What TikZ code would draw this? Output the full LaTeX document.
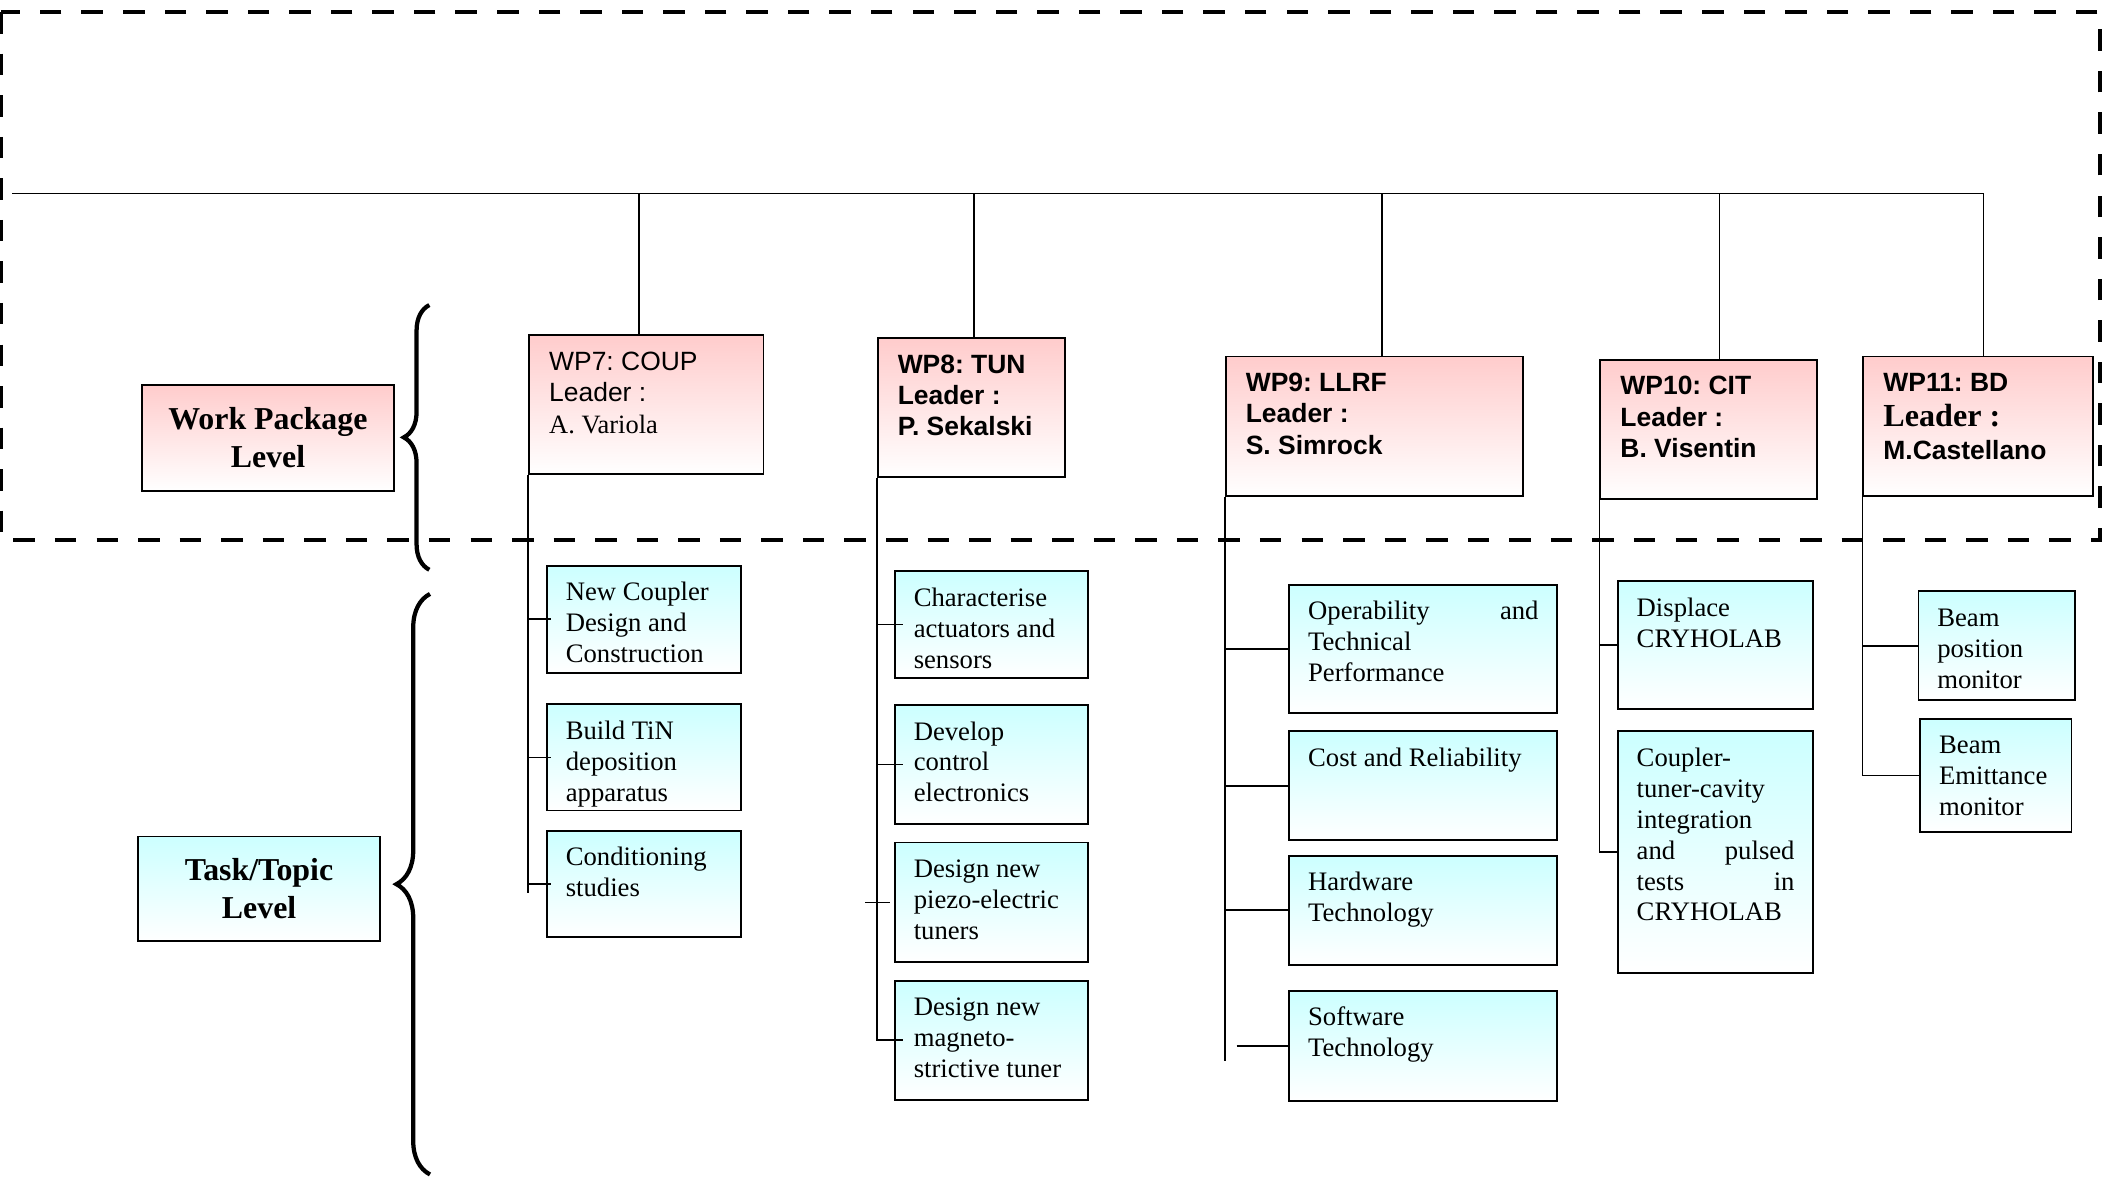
\documentclass[tikz,border=0pt]{standalone}
\usepackage{fontspec}
\setmainfont{Liberation Serif}
\setsansfont{Liberation Sans}
\frenchspacing
\usetikzlibrary{decorations.pathreplacing}
\definecolor{pinktop}{RGB}{255,204,204}
\definecolor{cyantop}{RGB}{204,255,255}
\tikzset{
  wpbox/.style={draw, line width=0.8pt, top color=pinktop, bottom color=white, anchor=north west,
    align=flush left, text width=#1, inner xsep=0.3cm, inner ysep=0.2cm, text height=0.32cm, text depth=1.35cm,
    font=\sffamily\fontsize{11.2}{13.3}\selectfont},
  wpbold/.style={wpbox=#1, font=\sffamily\bfseries\fontsize{11.2}{13.3}\selectfont},
  taskbox/.style 2 args={draw, line width=0.8pt, top color=cyantop, bottom color=white, anchor=north west,
    align=flush left, text width=#1, inner xsep=0.28cm, inner ysep=0.2cm, text height=0.32cm, text depth=#2,
    font=\fontsize{11.3}{13.1}\selectfont},
  levelbox/.style={draw, line width=0.8pt, align=center, font=\bfseries\fontsize{13.5}{16.2}\selectfont},
  conn/.style={line width=0.7pt},
  levelbrace/.style={decorate, decoration={brace, amplitude=#1}, line width=1.8pt},
  wpframe/.style={line width=1.7pt, dash pattern=on 9.1pt off 8.5pt}
}
\begin{document}
\begin{tikzpicture}[x=0.02cm, y=-0.02cm]
  \useasboundingbox (0,0) rectangle (1568,879);
  \draw[wpframe] (1,9) rectangle (1563,402);

  \node[levelbox, top color=pinktop, bottom color=white, minimum width=3.74cm, minimum height=1.57cm] (wplevel) at (199.4,325.9) {Work Package\\Level};
  \node[levelbox, top color=cyantop, bottom color=white, minimum width=3.6cm, minimum height=1.56cm] (tasklevel) at (192.8,661.5) {Task/Topic\\Level};
  \draw[levelbrace=0.38cm] (319.5,424) -- (319.5,227);
  \draw[levelbrace=0.5cm] (320,874) -- (320,442);

  \node[wpbox=2.89cm] (wp7) at (393,248.8) {WP7: COUP\\Leader :\\\rmfamily A. Variola};
  \node[wpbold=2.19cm] (wp8) at (652.4,251) {WP8: TUN\\Leader :\\P. Sekalski};
  \node[wpbold=3.82cm] (wp9) at (911.4,264.6) {WP9: LLRF\\Leader :\\S. Simrock};
  \node[wpbold=2.63cm] (wp10) at (1190.2,267) {WP10: CIT\\Leader :\\B. Visentin};
  \node[wpbold=2.82cm] (wp11) at (1385.9,264.6) {WP11: BD\\[1.4pt]{\rmfamily\fontsize{13.6}{16}\selectfont Leader :}\\[0.7pt]M.Castellano};

  \node[taskbox={2.33cm}{0.87cm}] (c1) at (406.4,420.4) {New Coupler\\Design and\\Construction};
  \node[taskbox={2.33cm}{0.86cm}] (c2) at (406.4,523.5) {Build TiN\\deposition\\apparatus};
  \node[taskbox={2.33cm}{0.86cm}] (c3) at (406.4,617.6) {Conditioning\\studies};
  \node[taskbox={2.32cm}{0.87cm}] (t1) at (665.3,424.4) {Characterise\\actuators and\\sensors};
  \node[taskbox={2.32cm}{1.05cm}] (t2) at (665.3,524) {Develop\\control\\electronics};
  \node[taskbox={2.32cm}{1.06cm}] (t3) at (665.3,626.3) {Design new\\piezo-electric\\tuners};
  \node[taskbox={2.32cm}{1.05cm}] (t4) at (665.3,729.2) {Design new\\magneto-\\strictive tuner};
  \node[taskbox={3.43cm}{1.19cm}] (l1) at (958.8,434.4) {Operability\hfill and\\Technical\\Performance};
  \node[taskbox={3.43cm}{0.90cm}] (l2) at (958.8,543.6) {Cost and Reliability};
  \node[taskbox={3.43cm}{0.90cm}] (l3) at (958.8,636.2) {Hardware\\Technology};
  \node[taskbox={3.43cm}{0.92cm}] (l4) at (958.8,736.6) {Software\\Technology};
  \node[taskbox={2.35cm}{1.18cm}] (i1) at (1203.3,431.8) {Displace\\CRYHOLAB};
  \node[taskbox={2.35cm}{2.87cm}] (i2) at (1203.3,543.6) {Coupler-\\tuner-cavity\\integration\\and\hfill pulsed\\tests\hfill in\\CRYHOLAB};
  \node[taskbox={1.77cm}{0.90cm}] (b1) at (1427,439.3) {Beam\\position\\monitor};
  \node[taskbox={1.69cm}{0.97cm}] (b2) at (1428.4,534.2) {Beam\\Emittance\\monitor};

  \coordinate (root) at (9.3,144);
  \draw[conn] (root) -| ([xshift=0.08cm]wp11.north);
  \foreach \w/\dx in {wp7/-0.11, wp8/0.04, wp9/0.12, wp10/0.16}
    \draw[conn] ([xshift=\dx cm]\w.north) -- ([xshift=\dx cm]\w.north |- root);

  \draw[conn] (wp7.south west) -- ++(0,311);
  \draw[conn] (wp8.south west) -- ++(0,419);
  \draw[conn] (wp9.south west) -- ++(0,420);
  \draw[conn] (wp10.south west) |- (i2.west);
  \draw[conn] (wp11.south west) |- (b2.west);
  \foreach \t in {c1,c2,c3}
    \draw[conn] (wp7.south west |- \t.west) -- ([xshift=0.08cm]\t.west);
  \foreach \t in {t1,t2,t4}
    \draw[conn] (wp8.south west |- \t.west) -- ([xshift=0.14cm]\t.west);
  \draw[conn] ([xshift=-0.43cm]t3.west) -- ([xshift=-0.06cm]t3.west);
  \foreach \t in {l1,l2,l3}
    \draw[conn] (wp9.south west |- \t.west) -- (\t.west);
  \draw[conn] ([xshift=-0.77cm]l4.west) -- (l4.west);
  \draw[conn] (wp10.south west |- i1.west) -- (i1.west);
  \draw[conn] (wp11.south west |- b1.west) -- (b1.west);
\end{tikzpicture}
\end{document}
